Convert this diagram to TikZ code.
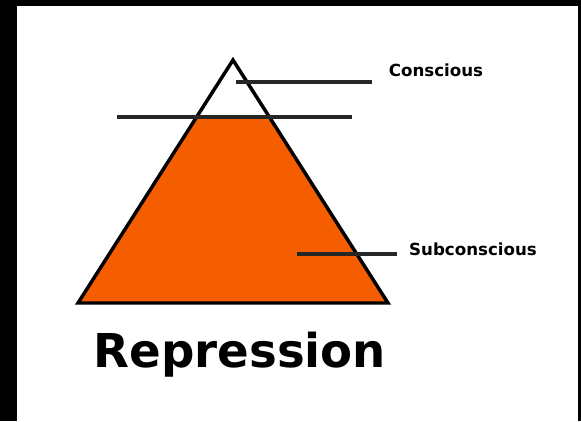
\documentclass[tikz,border=0pt]{standalone}
\usepackage{fontspec}
\setmainfont{DejaVu Sans}
\usetikzlibrary{calc}
\definecolor{iceorange}{RGB}{245,94,0}

\begin{document}
\begin{tikzpicture}[
    x=0.75pt, y=-0.75pt,
    edge/.style={line width=2.6pt, draw=black, line join=miter},
    level/.style={line width=2.4pt, draw=black!85},
    tag/.style={font=\bfseries\fontsize{12.5}{15}\selectfont, anchor=base, inner sep=0pt},
    title/.style={font=\bfseries\fontsize{35}{40}\selectfont, anchor=base, inner sep=0pt},
]

% Frame
\fill[black] (0,0) rectangle (581,421);
\fill[white] (17,6) rectangle (578,421);
\useasboundingbox (0,0) rectangle (581,421);

% Corners
\coordinate (apex) at (233,60);
\coordinate (bl) at (78,303);
\coordinate (br) at (388,303);
\coordinate (wl) at ($(apex)!0.2346!(bl)$);
\coordinate (wr) at ($(apex)!0.2346!(br)$);

% Submerged part
\fill[iceorange] (wl) -- (wr) -- (br) -- (bl) -- cycle;
\draw[edge] (apex) -- (br) -- (bl) -- cycle;

% Lines
\coordinate (w1) at (117,117);
\coordinate (w2) at (352,117);
\coordinate (c1) at (236,82);
\coordinate (c2) at (372,82);
\coordinate (s1) at (297,254);
\coordinate (s2) at (397,254);
\draw[level] (w1) -- (w2);
\draw[level] (c1) -- (c2);
\draw[level] (s1) -- (s2);

% Labels
\node[tag] (con) at (436,76.5) {Conscious};
\node[tag] (sub) at (473,255) {Subconscious};
\node[title] (rep) at (240,367) {Repression};

\end{tikzpicture}
\end{document}
